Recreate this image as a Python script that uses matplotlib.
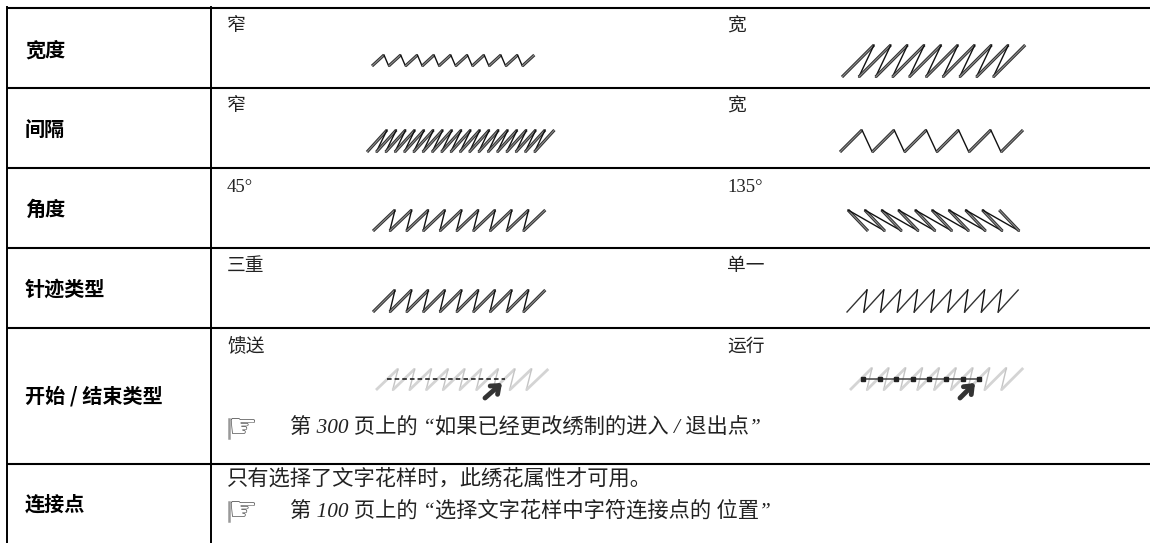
import matplotlib
matplotlib.use('Agg')
import matplotlib.pyplot as plt

W, H = 1150, 543

row_labels = ['宽度', '间隔', '角度', '针迹类型', '开始 / 结束类型', '连接点']
row_label_y = [50, 129, 209, 289, 396, 504]
row_lines = [8, 88, 168, 248, 328, 464]
left_heads = ['窄', '窄', '45°', '三重', '馈送']
right_heads = ['宽', '宽', '135°', '单一', '运行']
head_y = [27, 107, 187, 267, 347]

# stitch: start x, lean, step, count, y top, y bottom
left_stitch = [(372, 12, 16.7, 10, 55, 66),
               (367, 20, 9.3, 19, 130, 152),
               (373, 22, 16.7, 10, 210, 231),
               (373, 22, 16.7, 10, 290, 312),
               (376, 22, 16.7, 10, 369, 390)]
right_stitch = [(842, 32, 16.8, 10, 45, 77),
                (840, 22, 32.2, 6, 130, 152),
                (868, -20, 16.8, 10, 210, 231),
                (847, 20, 16.8, 10, 290, 312),
                (850, 22, 16.8, 10, 368, 390)]
run_x = [863, 879.6, 896.2, 912.8, 929.4, 946, 962.6, 979]
feed_x = [387, 505]

ref_texts = ['第 300 页上的 “如果已经更改绣制的进入 / 退出点”',
             '第 100 页上的 “选择文字花样中字符连接点的 位置”']
ref_y = [428, 511]
note = '只有选择了文字花样时，此绣花属性才可用。'

body_font = ['Liberation Serif', 'Noto Sans CJK SC']

fig = plt.figure(figsize=(W / 100, H / 100), dpi=100)
ax = fig.add_axes([0, 0, 1, 1])
ax.set_xlim(0, W)
ax.set_ylim(H, 0)
ax.axis('off')


def draw_stitch(spec, style='triple'):
    x0, lean, step, n, top, bot = spec
    for i in range(n):
        xb = x0 + i * step
        xt = xb + lean
        if style == 'triple':
            ax.plot([xb, xt], [bot, top], color='#2e2e2e', lw=2.2, solid_capstyle='butt')
            ax.plot([xb, xt], [bot, top], color='#8c8c8c', lw=0.8, solid_capstyle='butt')
            ret = '#111111'
        elif style == 'single':
            ax.plot([xb, xt], [bot, top], color='#333333', lw=1.0)
            ret = '#111111'
        else:
            ax.plot([xb, xt], [bot, top], color='#d4d4d4', lw=2.0, solid_capstyle='butt')
            ret = '#c4c4c4'
        if i < n - 1:
            ax.plot([xt, xb + step], [top, bot], color=ret, lw=1.0)


def draw_arrow(x1, y1, x2, y2):
    ax.annotate('', xy=(x2, y2), xytext=(x1, y1),
                arrowprops=dict(arrowstyle='->,head_length=0.5,head_width=0.4',
                                color='#333333', lw=3.5, shrinkA=0, shrinkB=0))


for y in row_lines:
    ax.plot([7, W], [y, y], color='black', lw=1.5, solid_capstyle='butt')
ax.plot([7, 7], [7, H], color='black', lw=1.4)
ax.plot([211, 211], [7, H], color='black', lw=1.4)

for lab, y in zip(row_labels, row_label_y):
    ax.text(25, y, lab, fontsize=14.5, fontweight='bold', family='Noto Sans CJK SC',
            ha='left', va='center', color='black')

for lab, y in zip(left_heads, head_y):
    ax.text(227, y, lab, fontsize=13.5, family=body_font, ha='left', va='center', color='#222222')
for lab, y in zip(right_heads, head_y):
    ax.text(727, y, lab, fontsize=13.5, family=body_font, ha='left', va='center', color='#222222')

styles = ['triple', 'triple', 'triple', 'triple', 'ghost']
for spec, st in zip(left_stitch, styles):
    draw_stitch(spec, st)
styles_r = ['triple', 'triple', 'triple', 'single', 'ghost']
for spec, st in zip(right_stitch, styles_r):
    draw_stitch(spec, st)

# feed line and run line over the faded stitches
ax.plot(feed_x, [379, 379], color='#111111', lw=1.1, ls=(0, (3, 2)))
ax.plot(run_x, [379] * len(run_x), color='#444444', lw=1.1, marker='s', ms=2.6, mfc='#222222', mec='#222222')
draw_arrow(485, 398, 502, 383)
draw_arrow(960, 398, 975, 383)

ax.text(227, 479, note, fontsize=15.3, family=body_font, ha='left', va='center', color='#222222')
for txt, y in zip(ref_texts, ref_y):
    ax.plot([229, 229], [y - 9, y + 10], color='#999999', lw=1.8)
    ax.text(227, y, '☞', fontsize=24, family='DejaVu Sans', ha='left', va='center', color='#444444')
    ax.text(290, y, txt, fontsize=15.3, family=body_font, style='italic', ha='left', va='center', color='#222222')

fig.savefig('out.png', dpi=100)
